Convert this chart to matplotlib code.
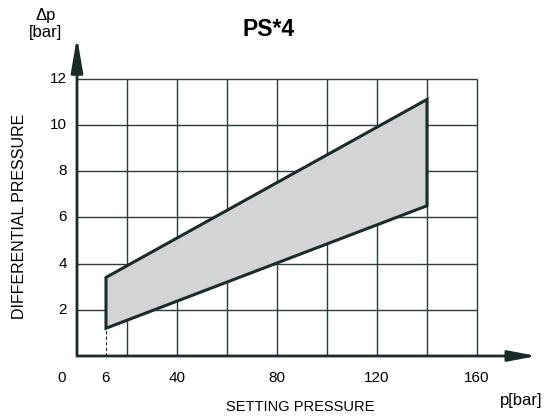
import matplotlib.pyplot as plt

plt.rcParams['font.family'] = ['Liberation Sans', 'DejaVu Sans']

# ---- data ----
# x position of the "6" mark on this schematic axis (not to scale)
x_min_pos = 11.6
x_max = 140
upper_left, upper_right = 3.4, 11.1
lower_left, lower_right = 1.2, 6.5

x_ticks = [x_min_pos, 40, 80, 120, 160]
x_tick_labels = ['6', '40', '80', '120', '160']
y_ticks = [2, 4, 6, 8, 10, 12]
grid_x = [20, 40, 60, 80, 100, 120, 140, 160]

LINE = '#1b2b28'
GRID = '#2d3b39'
FILL = '#d3d4d6'

fig = plt.figure(figsize=(5.48, 4.18), dpi=100)
W, H = 548, 418
# axes: data x 0..184, y 0..13.8 (2.5 px per bar on x, ~23 px per bar on y)
ax = fig.add_axes([77 / W, 62 / H, 460 / W, 319 / H])
ax.set_xlim(0, 184)
ax.set_ylim(0, 13.8)
ax.axis('off')

# grid
ax.hlines(y_ticks, 0, 160, color=GRID, lw=1.0)
ax.vlines(grid_x, 0, 12, color=GRID, lw=1.0)

# band
px = [x_min_pos, x_max, x_max, x_min_pos]
py = [lower_left, lower_right, upper_right, upper_left]
ax.fill(px, py, facecolor=FILL, edgecolor=LINE, lw=2.2, joinstyle='miter', zorder=3)
ax.plot([x_min_pos, x_min_pos], [0, lower_left], color=LINE, lw=0.8,
        ls=(0, (3, 2)), zorder=3)

# axes with arrows
ax.annotate('', xy=(184, 0), xytext=(0, 0),
            arrowprops=dict(arrowstyle='-|>,head_length=1.7,head_width=0.32',
                            color=LINE, lw=2, shrinkA=0, shrinkB=0), zorder=4)
ax.annotate('', xy=(0, 13.8), xytext=(0, 0),
            arrowprops=dict(arrowstyle='-|>,head_length=2.1,head_width=0.36',
                            color=LINE, lw=2, shrinkA=0, shrinkB=0), zorder=4)

# tick labels
for y in y_ticks:
    ax.text(-4, y, str(y), ha='right', va='center', fontsize=11)
for x, lab in zip(x_ticks, x_tick_labels):
    ax.text(x, -0.95, lab, ha='center', va='center', fontsize=11)
ax.text(-6, -0.95, '0', ha='center', va='center', fontsize=11)

# titles / labels
fig.text(269 / W, 1 - 29 / H, 'PS*4', ha='center', va='center',
         fontsize=16.5, fontweight='bold')
fig.text(46 / W, 1 - 24 / H, '\u0394p\n[bar]', ha='center', va='center',
         fontsize=12, linespacing=1.1)
fig.text(20 / W, 1 - 216 / H, 'DIFFERENTIAL PRESSURE', rotation=90,
         ha='center', va='center', fontsize=11.5)
fig.text(300 / W, 1 - 407 / H, 'SETTING PRESSURE', ha='center', va='center',
         fontsize=10.5)
fig.text(521 / W, 1 - 400 / H, 'p[bar]', ha='center', va='center',
         fontsize=12)

fig.savefig('out.png', dpi=100)
